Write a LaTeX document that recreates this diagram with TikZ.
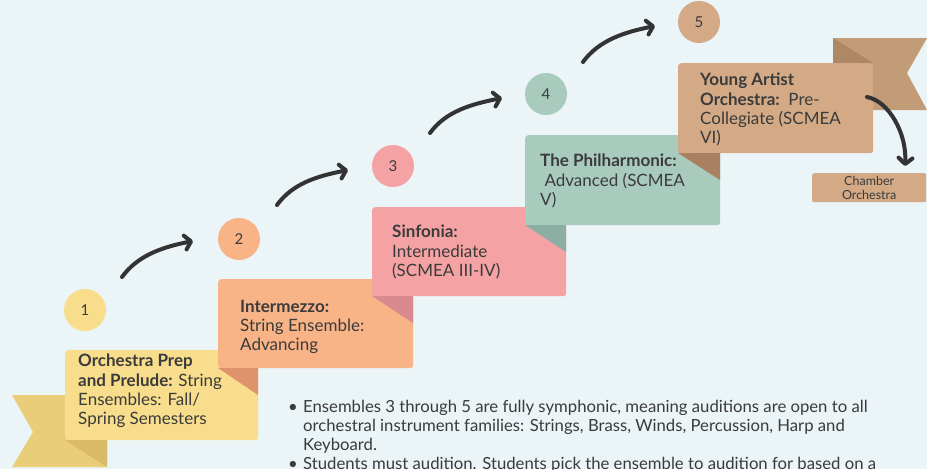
\documentclass[tikz,border=0pt]{standalone}
\usepackage{fontspec}
\setmainfont{Lato}
\usetikzlibrary{arrows.meta}
\definecolor{bg}{HTML}{EBF4F7}
\definecolor{txt}{HTML}{3B3B3B}
\definecolor{arr}{HTML}{333333}
\definecolor{yBox}{HTML}{F8DE8C}
\definecolor{yRib}{HTML}{EACD78}
\definecolor{yFold}{HTML}{D9BA67}
\definecolor{oBox}{HTML}{F8B387}
\definecolor{oFold}{HTML}{DF936D}
\definecolor{pBox}{HTML}{F4A2A3}
\definecolor{pFold}{HTML}{D98A8E}
\definecolor{gBox}{HTML}{A9CBBE}
\definecolor{gFold}{HTML}{8DAEA2}
\definecolor{tBox}{HTML}{D3AA85}
\definecolor{tFold}{HTML}{A98160}
\definecolor{tRib}{HTML}{C19C77}
\definecolor{tRibD}{HTML}{AE8864}
\begin{document}
\begin{tikzpicture}[x=1pt,y=-1pt,
  stagebox/.style={rounded corners=3pt, inner sep=0pt, anchor=north west},
  stagetext/.style={anchor=north west, inner sep=0pt, align=left, text=txt,
    font=\fontsize{17}{19.2}\selectfont},
  num/.style={circle, minimum size=42pt, inner sep=0pt, text=txt,
    font=\fontsize{15}{18}\selectfont},
  stepArrow/.style={draw=arr, line width=4pt, line cap=round,
    -{Straight Barb[length=6pt,width=14pt,line cap=round,line join=round]}}
]
\fill[bg] (0,0) rectangle (927,469);
\useasboundingbox (0,0) rectangle (927,469);

% ribbons
\fill[yRib] (12,395) -- (107,395) -- (107,467) -- (12,467) -- (33,432) -- cycle;
\fill[tRib] (833,38) -- (927,38) -- (907,73) -- (927,110) -- (833,110) -- cycle;
\fill[tRibD] (833,38) -- (873,63) -- (833,63) -- cycle;

% box 1
\node[stagebox, fill=yBox, minimum width=193pt, minimum height=90pt] (b1) at (65,350) {};
\fill[yFold] (65,440) -- (107,440) -- (107,467) -- cycle;
\node[stagetext] (t1) at (78,354) {\textbf{Orchestra Prep}\\\textbf{and Prelude:} String\\Ensembles: Fall/\\Spring Semesters};

% box 2
\node[stagebox, fill=oBox, minimum width=195pt, minimum height=89pt] (b2) at (218,279) {};
\fill[oFold] (218,368) -- (258,368) -- (258,395) -- cycle;
\node[stagetext] (t2) at (240,300) {\textbf{Intermezzo:}\\String Ensemble:\\Advancing};

% box 3
\node[stagebox, fill=pBox, minimum width=194pt, minimum height=89pt] (b3) at (372,207) {};
\fill[pFold] (372,296) -- (413,296) -- (413,323) -- cycle;
\node[stagetext] (t3) at (392,225) {\textbf{Sinfonia:}\\Intermediate\\(SCMEA III-IV)};

% box 4
\node[stagebox, fill=gBox, minimum width=195pt, minimum height=90pt] (b4) at (525,135) {};
\fill[gFold] (525,225) -- (566,225) -- (566,252) -- cycle;
\node[stagetext] (t4) at (540,154) {\textbf{The Philharmonic:}\\\ Advanced (SCMEA\\V)};

% box 5
\node[stagebox, fill=tBox, minimum width=195pt, minimum height=90pt] (b5) at (678,63) {};
\fill[tFold] (678,153) -- (720,153) -- (720,180) -- cycle;
\node[stagetext] (t5) at (700,73) {\textbf{Young Artist}\\\textbf{Orchestra:}\ \ Pre-\\Collegiate (SCMEA\\VI)};

% chamber
\node[stagebox, fill=tBox, minimum width=114pt, minimum height=29pt, rounded corners=2pt] (b6) at (812,173) {};
\node[align=center, inner sep=0pt, text=txt, font=\fontsize{12.5}{14.5}\selectfont] (t6) at (b6.center) {Chamber\\Orchestra};

% circles
\node[num, fill=yBox] (c1) at (85,310) {1};
\node[num, fill=oBox] (c2) at (239,239) {2};
\node[num, fill=pBox] (c3) at (393,166) {3};
\node[num, fill=gBox] (c4) at (546,94) {4};
\node[num, fill=tBox] (c5) at (699,22) {5};

% arrows
\coordinate (a1s) at (122,277); \coordinate (a1e) at (193,241);
\coordinate (a2s) at (277,205); \coordinate (a2e) at (348,170);
\coordinate (a3s) at (430,133); \coordinate (a3e) at (502,98);
\coordinate (a4s) at (583,62);  \coordinate (a4e) at (655,26);
\coordinate (a5s) at (867,97);  \coordinate (a5e) at (905,166);
\foreach \i in {1,2,3,4}{
  \draw[stepArrow] (a\i s) .. controls +(16,-22) and +(-30,6) .. (a\i e);
}
\draw[stepArrow] (a5s) .. controls +(22,4) and +(2,-32) .. (a5e);

% bullets
\node[anchor=north west, inner sep=0pt, align=left, text=txt,
  font=\fontsize{16.7}{19}\selectfont] (notes) at (288,400)
  {\makebox[15pt][l]{\textbullet}Ensembles 3 through 5 are fully symphonic, meaning auditions are open to all\\
   \hspace*{15pt}orchestral instrument families: Strings, Brass, Winds, Percussion, Harp and\\
   \hspace*{15pt}Keyboard.\\
   \makebox[15pt][l]{\textbullet}Students must audition. Students pick the ensemble to audition for based on a};
\end{tikzpicture}
\end{document}
